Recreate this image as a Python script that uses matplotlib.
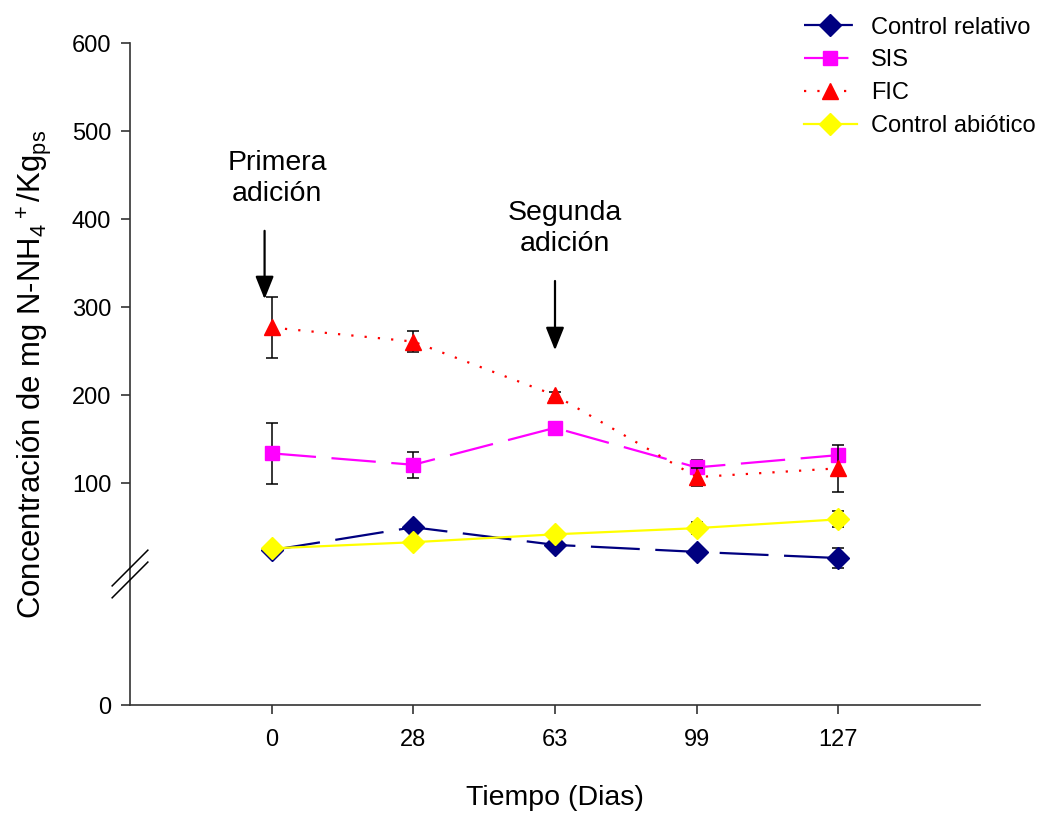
import matplotlib
matplotlib.use("Agg")
import matplotlib.pyplot as plt
import numpy as np

plt.rcParams['font.family'] = ['Liberation Sans', 'DejaVu Sans']
plt.rcParams['mathtext.default'] = 'regular'

# Sampling days (categorical axis)
dias = ["0", "28", "63", "99", "127"]

# N-NH4+ concentration (mg/Kg ps) and standard deviations
control_relativo = [24, 50, 30, 22, 15]
control_relativo_err = [0, 0, 0, 0, 11]
sis = [134, 121, 163, 118, 132]
sis_err = [35, 15, 0, 8, 7]
fic = [277, 261, 200, 107, 117]
fic_err = [35, 12, 4, 10, 27]
control_abiotico = [26, 33, 42, 49, 59]
control_abiotico_err = [0, 0, 3, 7, 9]

y_ticks = [100, 200, 300, 400, 500, 600]
y_floor = -152  # axis origin shown as "0" below the scale break

fig = plt.figure(figsize=(10.4, 8.16), dpi=100)
ax = fig.add_axes([0.125, 0.136, 0.8173, 0.811])

x = np.arange(len(dias))

series = [
    ("Control relativo", control_relativo, control_relativo_err,
     dict(color="#000080", marker="D", markersize=11, mfc="#000080", mec="#000080",
          linestyle=(0, (22, 7)), lw=1.6)),
    ("SIS", sis, sis_err,
     dict(color="#FF00FF", marker="s", markersize=10, mfc="#FF00FF", mec="#FF00FF",
          linestyle=(0, (20, 7)), lw=1.6)),
    ("FIC", fic, fic_err,
     dict(color="#FF0000", marker="^", markersize=11, mfc="#FF0000", mec="#FF0000",
          linestyle=(0, (1, 5)), lw=1.6)),
    ("Control abiótico", control_abiotico, control_abiotico_err,
     dict(color="#FFFF00", marker="D", markersize=11, mfc="#FFFF00", mec="#FFFF00",
          linestyle="-", lw=1.6)),
]

handles = []
for i, (name, vals, err, style) in enumerate(series):
    ax.errorbar(x, vals, yerr=err, fmt="none", ecolor="black", elinewidth=1.1,
                capsize=4.5, capthick=1.1, zorder=2 + 2 * i)
    h, = ax.plot(x, vals, label=name, zorder=3 + 2 * i, **style)
    handles.append(h)

ax.set_xlim(-1, 5)
ax.set_ylim(y_floor, 600)
ax.set_xticks(x)
ax.set_xticklabels(dias)
ax.set_yticks([y_floor] + y_ticks)
ax.set_yticklabels(["0"] + [str(t) for t in y_ticks])

for s in ["top", "right"]:
    ax.spines[s].set_visible(False)
for s in ["left", "bottom"]:
    ax.spines[s].set_linewidth(1.2)
    ax.spines[s].set_color("#333333")

ax.tick_params(axis="both", direction="out", length=6.5, width=1.2, color="#333333",
               labelsize=17)
ax.tick_params(axis="y", pad=7)
ax.tick_params(axis="x", pad=11)

ax.set_xlabel("Tiempo (Dias)", fontsize=20.5, labelpad=24)
ax.set_ylabel("Concentración de mg N-NH$_4$$^+$/Kg$_{ps}$", fontsize=22.4, labelpad=13)

# Scale-break marks on the y axis
for yb in (0.207, 0.189):
    ax.plot([-0.021, 0.021], [yb - 0.027, yb + 0.027], transform=ax.transAxes,
            color="black", lw=1.1, clip_on=False, zorder=10)

# Addition events
ax.annotate("", xy=(-0.05, 306), xytext=(-0.05, 390),
            arrowprops=dict(arrowstyle="-|>,head_length=1.0,head_width=0.4",
                            mutation_scale=14, lw=1.6, color="black"))
ax.text(0.04, 446, "Primera\nadición", ha="center", va="center", fontsize=20.5,
        linespacing=1.25)
ax.annotate("", xy=(2.0, 248), xytext=(2.0, 333),
            arrowprops=dict(arrowstyle="-|>,head_length=1.0,head_width=0.4",
                            mutation_scale=14, lw=1.6, color="black"))
ax.text(2.07, 389, "Segunda\nadición", ha="center", va="center", fontsize=20.5,
        linespacing=1.25)

leg = fig.legend(handles=handles, loc="upper left", bbox_to_anchor=(0.757, 1.0),
                 frameon=False, fontsize=17, handlelength=2.25, handletextpad=0.6,
                 labelspacing=0.46, borderaxespad=0.3)

fig.savefig("out.png", dpi=100)
